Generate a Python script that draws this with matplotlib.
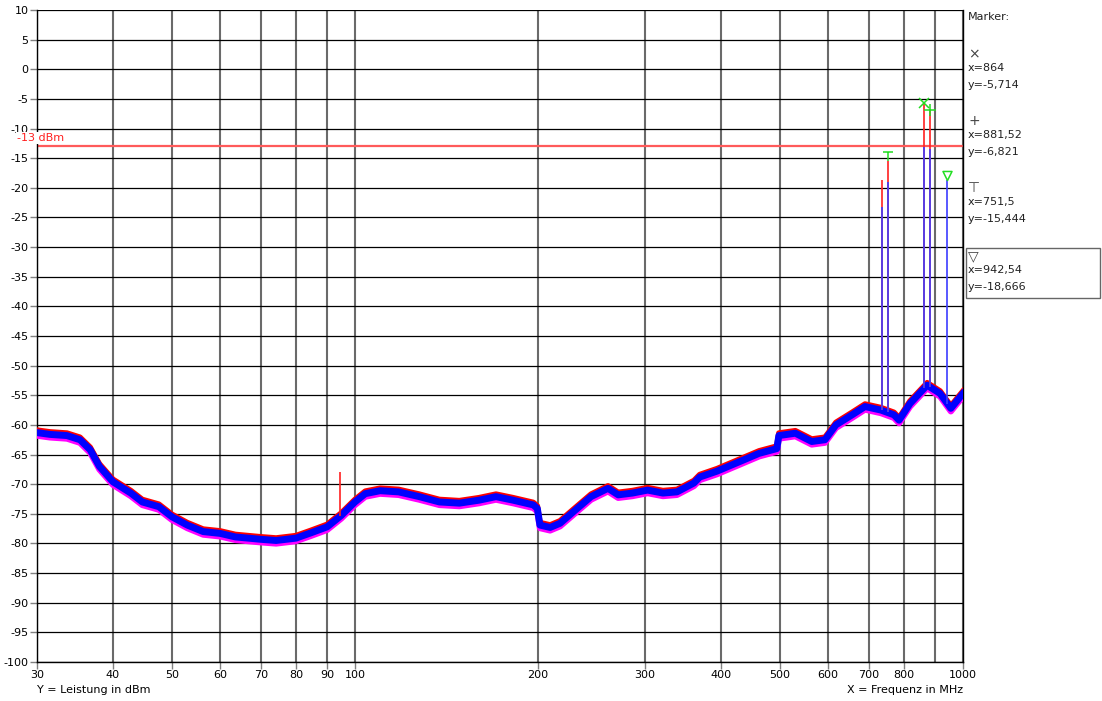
import numpy as np
import matplotlib
matplotlib.use("Agg")
import matplotlib.pyplot as plt
from matplotlib.path import Path
from matplotlib.transforms import offset_copy

# ---- data ----
freq = [30, 31.5, 33.6, 35.3, 36.7, 38.0, 40, 42.8, 44.7, 47.6, 50, 53, 56.3, 60, 63.6,
        70, 74.2, 80, 84.7, 90, 94.9, 100, 104, 110, 118, 127.6, 137.7, 148.5, 160,
        170.6, 182, 196.5, 199.5, 201.5, 209.4, 217.4, 229, 244.5, 260.7, 271, 286,
        303, 321, 338.5, 361, 369, 394, 429, 462, 494, 498, 530, 564, 593, 618, 657,
        690, 733, 770, 785, 818, 873, 917, 955, 1000]
level = [-61.3, -61.6, -61.8, -62.5, -64.2, -67.0, -69.6, -71.5, -73.0, -73.8, -75.5,
         -76.9, -78.0, -78.3, -78.9, -79.3, -79.5, -79.1, -78.2, -77.2, -75.3, -73.0,
         -71.6, -71.1, -71.3, -72.1, -73.0, -73.2, -72.7, -72.1, -72.7, -73.5, -74.1,
         -76.9, -77.3, -76.6, -74.6, -72.1, -70.7, -71.8, -71.5, -71.0, -71.5, -71.3,
         -69.8, -68.8, -67.8, -66.2, -64.8, -64.0, -61.8, -61.4, -62.8, -62.5, -60.0,
         -58.3, -56.9, -57.5, -58.3, -59.2, -56.4, -53.3, -54.7, -57.2, -54.7]

red_spike_f = [94.5, 735, 751.5, 864, 881.52]
red_spike_v = [-68.0, -18.7, -15.444, -5.714, -6.821]
blue_spike_f = [735, 751.5, 864, 881.52, 942.54]
blue_spike_v = [-23.2, -19.0, -13.1, -13.4, -18.666]

limit_dbm = -13

x_ticks = [30, 40, 50, 60, 70, 80, 90, 100, 200, 300, 400, 500, 600, 700, 800, 900, 1000]
x_labels = ["30", "40", "50", "60", "70", "80", "90", "100", "200", "300", "400",
            "500", "600", "700", "800", "", "1000"]
y_ticks = list(range(-100, 11, 5))

marker_names = ["X", "+", "T", "V"]
marker_x = [864, 881.52, 751.5, 942.54]
marker_y = [-5.714, -6.821, -15.444, -18.666]
marker_xtxt = ["x=864", "x=881,52", "x=751,5", "x=942,54"]
marker_ytxt = ["y=-5,714", "y=-6,821", "y=-15,444", "y=-18,666"]
marker_glyph = ["\u00d7", "+", "\u22a4", "\u25bd"]

# ---- figure ----
W, H = 1102, 701
fig = plt.figure(figsize=(W / 100, H / 100), dpi=100)
fig.patch.set_facecolor("white")
ax = fig.add_axes([37 / W, 39 / H, 926 / W, 652 / H])
ax.set_xscale("log")
ax.set_xlim(30, 1000)
ax.set_ylim(-100, 10)

ax.set_xticks(x_ticks)
ax.set_xticklabels(x_labels)
ax.xaxis.set_minor_locator(matplotlib.ticker.NullLocator())
ax.set_yticks(y_ticks)
ax.set_yticklabels([str(v) for v in y_ticks])
ax.tick_params(axis="both", direction="out", length=5, width=1, color="#808080",
               labelsize=8, labelcolor="black", pad=1)
for t, lab in zip(ax.xaxis.get_major_ticks(), x_labels):
    if lab == "":
        t.tick1line.set_visible(False)

ax.xaxis.grid(True, color="#6a6a6a", lw=1.5, zorder=0)
ax.yaxis.grid(True, color="black", lw=0.9, zorder=0)
ax.set_axisbelow(True)
for s in ax.spines.values():
    s.set_color("black")
    s.set_linewidth(1)
ax.spines["top"].set_visible(False)

# limit line
ax.axhline(limit_dbm, color="#ff5a5a", lw=1.6, zorder=2)
fig.text(17 / W, 1 - 138 / H, "-13 dBm", color="#ff2020", fontsize=8, va="center", ha="left",
         bbox=dict(facecolor="white", edgecolor="none", pad=0.5), zorder=10)

# traces
lf = np.log10(freq)
tr_dn = offset_copy(ax.transData, fig=fig, x=0, y=-3, units="dots")
tr_up = offset_copy(ax.transData, fig=fig, x=0, y=2.5, units="dots")
ax.plot(freq, level, color="#ff00ff", lw=4.5, transform=tr_dn, zorder=3, solid_joinstyle="round")
ax.plot(freq, level, color="#ff0000", lw=4.0, transform=tr_up, zorder=3, solid_joinstyle="round")
ax.plot(freq, level, color="#0000ff", lw=5.0, zorder=4, solid_joinstyle="round")

base_r = np.interp(np.log10(red_spike_f), lf, level)
ax.vlines(red_spike_f, base_r, red_spike_v, color="#ff2020", lw=1.2, zorder=5)
base_b = np.interp(np.log10(blue_spike_f), lf, level)
ax.vlines(blue_spike_f, base_b, blue_spike_v, color="#3c3cff", lw=1.2, zorder=6)

# markers
t_path = Path([(-1, 2), (1, 2), (0, 2), (0, 0)],
              [Path.MOVETO, Path.LINETO, Path.MOVETO, Path.LINETO])
v_path = Path([(-1, 2), (1, 2), (0, 0), (-1, 2)],
              [Path.MOVETO, Path.LINETO, Path.LINETO, Path.CLOSEPOLY])
green = "#22dd22"
for name, mx, my in zip(marker_names, marker_x, marker_y):
    if name == "X":
        ax.plot([mx], [my], marker="x", ms=7, mew=1.1, color=green, zorder=7)
    elif name == "+":
        ax.plot([mx], [my], marker="+", ms=8, mew=1.1, color=green, zorder=7)
    elif name == "T":
        ax.plot([mx], [my], marker=t_path, ms=13, mew=1.1, color=green, zorder=7)
    else:
        ax.plot([mx], [my], marker=v_path, ms=13, mew=1.1, mfc="none", mec=green, zorder=7)

# axis captions
fig.text(37 / W, 1 - 690 / H, "Y = Leistung in dBm", fontsize=8, va="center", ha="left")
fig.text(963 / W, 1 - 690 / H, "X = Frequenz in MHz", fontsize=8, va="center", ha="right")

# right marker panel
fig.text(968 / W, 1 - 17 / H, "Marker:", fontsize=8, va="center", ha="left", color="#222222")
glyph_y = [54, 121, 188, 256]
for i in range(4):
    gy = glyph_y[i]
    fig.text(968 / W, 1 - gy / H, marker_glyph[i], fontsize=10,
             va="center", ha="left", color="#444444")
    fig.text(968 / W, 1 - (gy + 14) / H, marker_xtxt[i], fontsize=8, va="center", ha="left",
             color="#222222")
    fig.text(968 / W, 1 - (gy + 31) / H, marker_ytxt[i], fontsize=8, va="center", ha="left",
             color="#222222")
box = plt.Rectangle((966 / W, 1 - 298 / H), 134 / W, 50 / H, transform=fig.transFigure,
                    fill=False, edgecolor="#666666", lw=1)
fig.patches.append(box)

fig.savefig("out.png", dpi=100)
